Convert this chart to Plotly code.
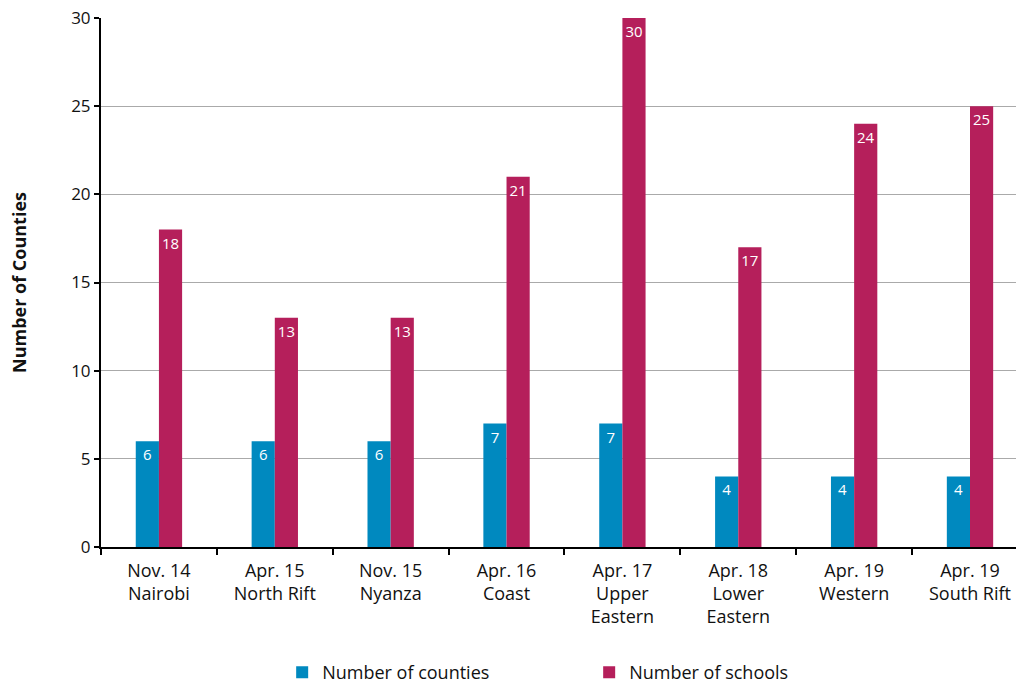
import plotly.graph_objects as go

categories = ["Nov. 14<br>Nairobi", "Apr. 15<br>North Rift", "Nov. 15<br>Nyanza",
              "Apr. 16<br>Coast", "Apr. 17<br>Upper<br>Eastern", "Apr. 18<br>Lower<br>Eastern",
              "Apr. 19<br>Western", "Apr. 19<br>South Rift"]
counties = [6, 6, 6, 7, 7, 4, 4, 4]
schools = [18, 13, 13, 21, 30, 17, 24, 25]
y_ticks = [0, 5, 10, 15, 20, 25, 30]

FONT = "Open Sans"
BLUE = "#0089BF"
MAGENTA = "#B51F5B"

fig = go.Figure()
fig.add_trace(go.Bar(
    x=categories, y=counties, name="Number of counties",
    marker=dict(color=BLUE, line=dict(width=0)),
    text=counties, textposition="inside", insidetextanchor="end",
    textfont=dict(color="white", size=15, family=FONT),
))
fig.add_trace(go.Bar(
    x=categories, y=schools, name="Number of schools",
    marker=dict(color=MAGENTA, line=dict(width=0)),
    text=schools, textposition="inside", insidetextanchor="end",
    textfont=dict(color="white", size=15, family=FONT),
))

fig.update_layout(
    width=1016, height=687,
    margin=dict(l=101, r=0, t=18, b=140, autoexpand=False),
    paper_bgcolor="white", plot_bgcolor="white",
    barmode="group", bargap=0.6, bargroupgap=0,
    font=dict(family=FONT, size=17, color="#111111"),
    uniformtext=dict(mode="show", minsize=15),
    showlegend=True,
    legend=dict(
        orientation="h", xref="paper", x=0.198, xanchor="left",
        yref="container", y=0.021, yanchor="middle",
        entrywidth=262, entrywidthmode="pixels",
        font=dict(size=18, family=FONT, color="#111111"),
    ),
    xaxis=dict(
        type="category", range=[-0.5, 7.397],
        showline=True, linecolor="black", linewidth=2,
        ticks="outside", tickson="boundaries", ticklen=6, tickwidth=2, tickcolor="black",
        tickfont=dict(size=18, family=FONT), ticklabelstandoff=6, showgrid=False,
    ),
    yaxis=dict(
        range=[0, 30], tickvals=y_ticks,
        showline=True, linecolor="black", linewidth=2,
        ticks="outside", ticklen=5, tickwidth=2, tickcolor="black",
        showgrid=True, gridcolor="#AAAAAA", gridwidth=1,
        tickfont=dict(size=17, family=FONT),
        title=dict(text="<b>Number of Counties</b>", font=dict(size=18, family=FONT), standoff=40),
        zeroline=False,
    ),
)

fig.write_html("out.html")
